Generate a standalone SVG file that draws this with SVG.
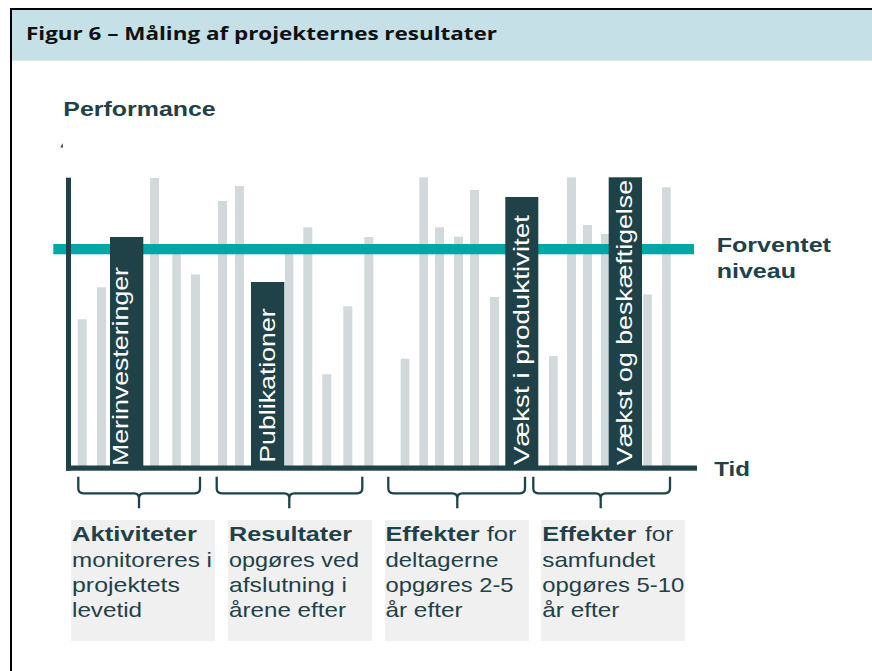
<svg xmlns="http://www.w3.org/2000/svg" width="872" height="671" viewBox="0 0 872 671">
  <style>
    .lbl { font-family: "Liberation Sans", Arial, sans-serif; fill: #1f4148; }
    .b { font-weight: 700; }
    .bartxt { font-family: "Liberation Sans", Arial, sans-serif; font-size: 22px; fill: #ffffff; }
    .box { fill: #f0f0f0; }
    .bar { fill: #d2d9da; }
    .dark { fill: #1f4148; }
    .brace { fill: none; stroke: #1f4148; stroke-width: 2.3; stroke-linecap: butt; stroke-linejoin: round; }
  </style>

  <!-- frame and title band -->
  <g id="frame">
    <rect x="12" y="10" width="860" height="50.7" fill="#c5e0e7"/>
    <rect x="10" y="8" width="862" height="2" fill="#000"/>
    <rect x="10" y="8" width="2" height="663" fill="#000"/>
    <text x="26" y="40" font-family="'Open Sans', 'Liberation Sans', sans-serif" font-weight="700" font-size="18" fill="#111" textLength="471" lengthAdjust="spacingAndGlyphs">Figur 6 – Måling af projekternes resultater</text>
  </g>

  <!-- axis title -->
  <g id="y-title">
    <text class="lbl b" x="63.3" y="116" font-size="21" textLength="152.4" lengthAdjust="spacingAndGlyphs">Performance</text>
    <polygon points="60.5,147.5 62.4,143 63,147.5" fill="#1f4148"/>
  </g>

  <!-- grey background bars -->
  <g id="bars">
    <rect class="bar" x="77.7" y="319.3" width="9" height="147"/>
    <rect class="bar" x="97" y="287.3" width="9" height="179"/>
    <rect class="bar" x="150" y="178" width="9" height="288"/>
    <rect class="bar" x="172.3" y="254" width="8.5" height="212"/>
    <rect class="bar" x="191" y="274.5" width="9" height="192"/>
    <rect class="bar" x="218" y="201" width="9" height="265"/>
    <rect class="bar" x="235" y="186" width="9" height="280"/>
    <rect class="bar" x="285" y="254" width="8.3" height="212"/>
    <rect class="bar" x="303.3" y="227.3" width="9" height="239"/>
    <rect class="bar" x="322.3" y="374.3" width="9" height="92"/>
    <rect class="bar" x="343.3" y="306.3" width="9" height="160"/>
    <rect class="bar" x="364.3" y="237" width="9" height="229"/>
    <rect class="bar" x="400.7" y="358.7" width="8.7" height="107"/>
    <rect class="bar" x="419.3" y="177.3" width="8.7" height="289"/>
    <rect class="bar" x="435" y="227.3" width="9" height="239"/>
    <rect class="bar" x="454" y="236.7" width="9" height="229"/>
    <rect class="bar" x="470" y="190" width="9" height="276"/>
    <rect class="bar" x="490" y="297" width="9" height="169"/>
    <rect class="bar" x="549" y="356" width="8.7" height="110"/>
    <rect class="bar" x="567" y="177.3" width="9" height="289"/>
    <rect class="bar" x="583" y="225" width="9" height="241"/>
    <rect class="bar" x="601" y="234" width="9" height="232"/>
    <rect class="bar" x="643.3" y="294.3" width="8.5" height="172"/>
    <rect class="bar" x="662" y="187.3" width="8.7" height="279"/>
  </g>

  <!-- expected level line -->
  <rect id="expected-level" x="53.3" y="244" width="640.7" height="10.3" fill="#00a7a7"/>

  <!-- highlighted measurement bars -->
  <g id="bar-merinvesteringer">
    <rect class="dark" x="110" y="237" width="33.3" height="229"/>
    <text class="bartxt" transform="translate(128,466) rotate(-90)" textLength="199" lengthAdjust="spacingAndGlyphs">Merinvesteringer</text>
  </g>
  <g id="bar-publikationer">
    <rect class="dark" x="251" y="282" width="33.3" height="184"/>
    <text class="bartxt" transform="translate(275,462.7) rotate(-90)" textLength="154.4" lengthAdjust="spacingAndGlyphs">Publikationer</text>
  </g>
  <g id="bar-produktivitet">
    <rect class="dark" x="505.3" y="197" width="33" height="269"/>
    <text class="bartxt" transform="translate(529,465) rotate(-90)" textLength="250" lengthAdjust="spacingAndGlyphs">Vækst i produktivitet</text>
  </g>
  <g id="bar-beskaeftigelse">
    <rect class="dark" x="608.7" y="177.3" width="33.3" height="289"/>
    <text class="bartxt" transform="translate(632,465) rotate(-90)" textLength="285" lengthAdjust="spacingAndGlyphs">Vækst og beskæftigelse</text>
  </g>

  <!-- axes -->
  <g id="axes">
    <rect class="dark" x="66" y="177.7" width="5" height="293"/>
    <rect class="dark" x="66" y="465.5" width="631" height="5.2"/>
  </g>

  <!-- legend labels -->
  <g id="label-forventet">
    <text class="lbl b" x="716.7" y="252.3" font-size="21" textLength="114.3" lengthAdjust="spacingAndGlyphs">Forventet</text>
    <text class="lbl b" x="716.7" y="278.3" font-size="21" textLength="79.3" lengthAdjust="spacingAndGlyphs">niveau</text>
  </g>
  <g id="label-tid">
    <text class="lbl b" x="714.3" y="476" font-size="21" textLength="35.7" lengthAdjust="spacingAndGlyphs">Tid</text>
  </g>

  <!-- braces grouping the periods -->
  <g id="braces">
    <path class="brace" d="M78.3,476.7 V488.3 Q78.3,493.3 83.3,493.3 H134 Q139,493.3 139,498.3 V508.3 M139,498.3 Q139,493.3 144,493.3 H195 Q200,493.3 200,488.3 V476.7"/>
    <path class="brace" d="M216.7,476.7 V488.3 Q216.7,493.3 221.7,493.3 H284.3 Q289.3,493.3 289.3,498.3 V508.3 M289.3,498.3 Q289.3,493.3 294.3,493.3 H357.3 Q362.3,493.3 362.3,488.3 V476.7"/>
    <path class="brace" d="M388.3,476.7 V488.3 Q388.3,493.3 393.3,493.3 H452.3 Q457.3,493.3 457.3,498.3 V508.3 M457.3,498.3 Q457.3,493.3 462.3,493.3 H520 Q525,493.3 525,488.3 V476.7"/>
    <path class="brace" d="M533.3,476.7 V488.3 Q533.3,493.3 538.3,493.3 H595.7 Q600.7,493.3 600.7,498.3 V508.3 M600.7,498.3 Q600.7,493.3 605.7,493.3 H665 Q670,493.3 670,488.3 V476.7"/>
  </g>

  <!-- period descriptions -->
  <g id="box-aktiviteter">
    <rect class="box" x="71" y="520" width="144" height="121"/>
    <text class="lbl b" x="72" y="541" font-size="21" textLength="125" lengthAdjust="spacingAndGlyphs">Aktiviteter</text>
    <text class="lbl" x="72" y="566.5" font-size="21" textLength="140" lengthAdjust="spacingAndGlyphs">monitoreres i</text>
    <text class="lbl" x="72" y="591.5" font-size="21" textLength="108" lengthAdjust="spacingAndGlyphs">projektets</text>
    <text class="lbl" x="72" y="617" font-size="21" textLength="70" lengthAdjust="spacingAndGlyphs">levetid</text>
  </g>
  <g id="box-resultater">
    <rect class="box" x="228" y="520" width="144" height="121"/>
    <text class="lbl b" x="229" y="541" font-size="21" textLength="123" lengthAdjust="spacingAndGlyphs">Resultater</text>
    <text class="lbl" x="229" y="566.5" font-size="21" textLength="130" lengthAdjust="spacingAndGlyphs">opgøres ved</text>
    <text class="lbl" x="229" y="591.5" font-size="21" textLength="118" lengthAdjust="spacingAndGlyphs">afslutning i</text>
    <text class="lbl" x="229" y="617" font-size="21" textLength="117" lengthAdjust="spacingAndGlyphs">årene efter</text>
  </g>
  <g id="box-effekter-deltagere">
    <rect class="box" x="385" y="520" width="144" height="121"/>
    <text class="lbl" font-size="21" y="541"><tspan class="b" x="385.5" textLength="94" lengthAdjust="spacingAndGlyphs">Effekter</tspan><tspan x="486.7" textLength="30" lengthAdjust="spacingAndGlyphs">for</tspan></text>
    <text class="lbl" x="385.5" y="566.5" font-size="21" textLength="113" lengthAdjust="spacingAndGlyphs">deltagerne</text>
    <text class="lbl" x="385.5" y="591.5" font-size="21" textLength="128" lengthAdjust="spacingAndGlyphs">opgøres 2-5</text>
    <text class="lbl" x="385.5" y="617" font-size="21" textLength="77" lengthAdjust="spacingAndGlyphs">år efter</text>
  </g>
  <g id="box-effekter-samfund">
    <rect class="box" x="541" y="520" width="144" height="121"/>
    <text class="lbl" font-size="21" y="541"><tspan class="b" x="542.3" textLength="94" lengthAdjust="spacingAndGlyphs">Effekter</tspan><tspan x="645" textLength="28.3" lengthAdjust="spacingAndGlyphs">for</tspan></text>
    <text class="lbl" x="542.3" y="566.5" font-size="21" textLength="113" lengthAdjust="spacingAndGlyphs">samfundet</text>
    <text class="lbl" x="542.3" y="591.5" font-size="21" textLength="142" lengthAdjust="spacingAndGlyphs">opgøres 5-10</text>
    <text class="lbl" x="542.3" y="617" font-size="21" textLength="77" lengthAdjust="spacingAndGlyphs">år efter</text>
  </g>
</svg>
